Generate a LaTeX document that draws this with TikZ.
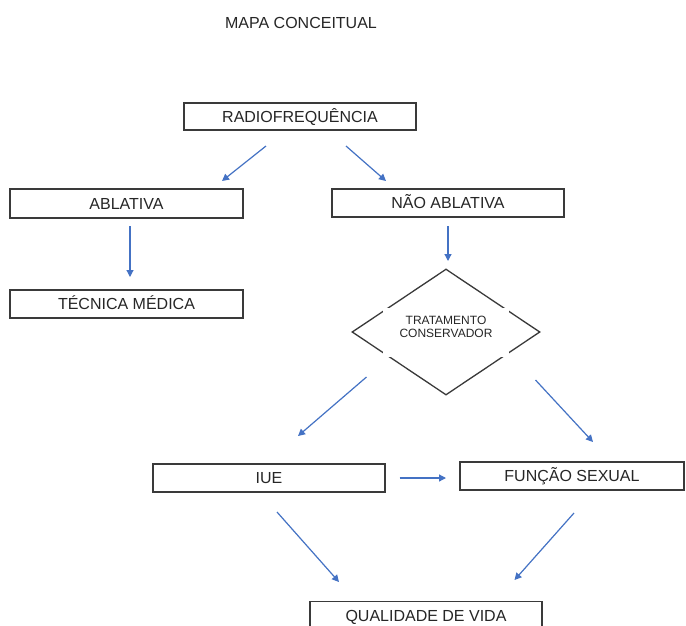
\documentclass[tikz,border=0pt]{standalone}
\usepackage{fontspec}
\setmainfont{Liberation Sans}
\usetikzlibrary{arrows.meta,shapes.geometric}
\definecolor{arrblue}{HTML}{4472C4}
\definecolor{boxline}{HTML}{3A3A3A}
\definecolor{txt}{HTML}{262626}
\begin{document}
\begin{tikzpicture}[x=1pt,y=-1pt,
  box/.style={draw=boxline,line width=1.5pt,rectangle,inner sep=0pt,text=txt,
    font=\fontsize{16}{19}\selectfont,text height=11.5pt,text depth=0pt},
  arr/.style={draw=arrblue,line width=1.2pt,-{Triangle[length=7pt,width=7pt]}},
  lbl/.style={text=txt,inner sep=0pt}]
\useasboundingbox (0,0) rectangle (686,625);
\fill[white] (0,0) rectangle (686,625);

\node[lbl,font=\fontsize{16}{19}\selectfont,text height=11.5pt,text depth=0pt] (title) at (301,22.5) {MAPA CONCEITUAL};

\node[box,minimum width=232pt,minimum height=27pt] (rad) at (300,116.5) {RADIOFREQUÊNCIA};
\node[box,minimum width=233pt,minimum height=29pt] (abl) at (126.5,203.5) {ABLATIVA};
\node[box,minimum width=232pt,minimum height=28pt] (nao) at (448,203) {NÃO ABLATIVA};
\node[box,minimum width=233pt,minimum height=28pt] (tec) at (126.5,304) {TÉCNICA MÉDICA};
\node[box,minimum width=232pt,minimum height=28pt] (iue) at (269,478) {IUE};
\node[box,minimum width=224pt,minimum height=28pt] (fun) at (572,476) {FUNÇÃO SEXUAL};
\node[box,minimum width=232pt,minimum height=28pt] (qual) at (426,615.5) {QUALIDADE DE VIDA};

\node[draw=boxline,line width=1.3pt,diamond,minimum width=188pt,minimum height=126pt,inner sep=0pt] (dia) at (446,332) {};
\draw[white,line width=4pt] ([shift={(-61,-22)}]dia.center) rectangle ([shift={(61,23)}]dia.center);
\node[lbl,font=\fontsize{12}{13.5}\selectfont,align=center] (dtxt) at (446,327) {TRATAMENTO\\CONSERVADOR};

\coordinate (a1s) at (266,146); \coordinate (a1e) at (222,181);
\coordinate (a2s) at (346,146); \coordinate (a2e) at (386,181);
\coordinate (a3s) at (130,226); \coordinate (a3e) at (130,277);
\coordinate (a4s) at (448,226); \coordinate (a4e) at (448,261);
\coordinate (a5s) at (366.5,377); \coordinate (a5e) at (298,436);
\coordinate (a6s) at (535.5,380); \coordinate (a6e) at (593,442);
\coordinate (a7s) at (399.5,478); \coordinate (a7e) at (446,478);
\coordinate (a8s) at (277,512); \coordinate (a8e) at (339,582);
\coordinate (a9s) at (574,513); \coordinate (a9e) at (514.5,580);

\draw[arr] (a1s) -- (a1e);
\draw[arr] (a2s) -- (a2e);
\draw[arr] (a3s) -- (a3e);
\draw[arr] (a4s) -- (a4e);
\draw[arr] (a5s) -- (a5e);
\draw[arr] (a6s) -- (a6e);
\draw[arr] (a7s) -- (a7e);
\draw[arr] (a8s) -- (a8e);
\draw[arr] (a9s) -- (a9e);
\end{tikzpicture}
\end{document}
